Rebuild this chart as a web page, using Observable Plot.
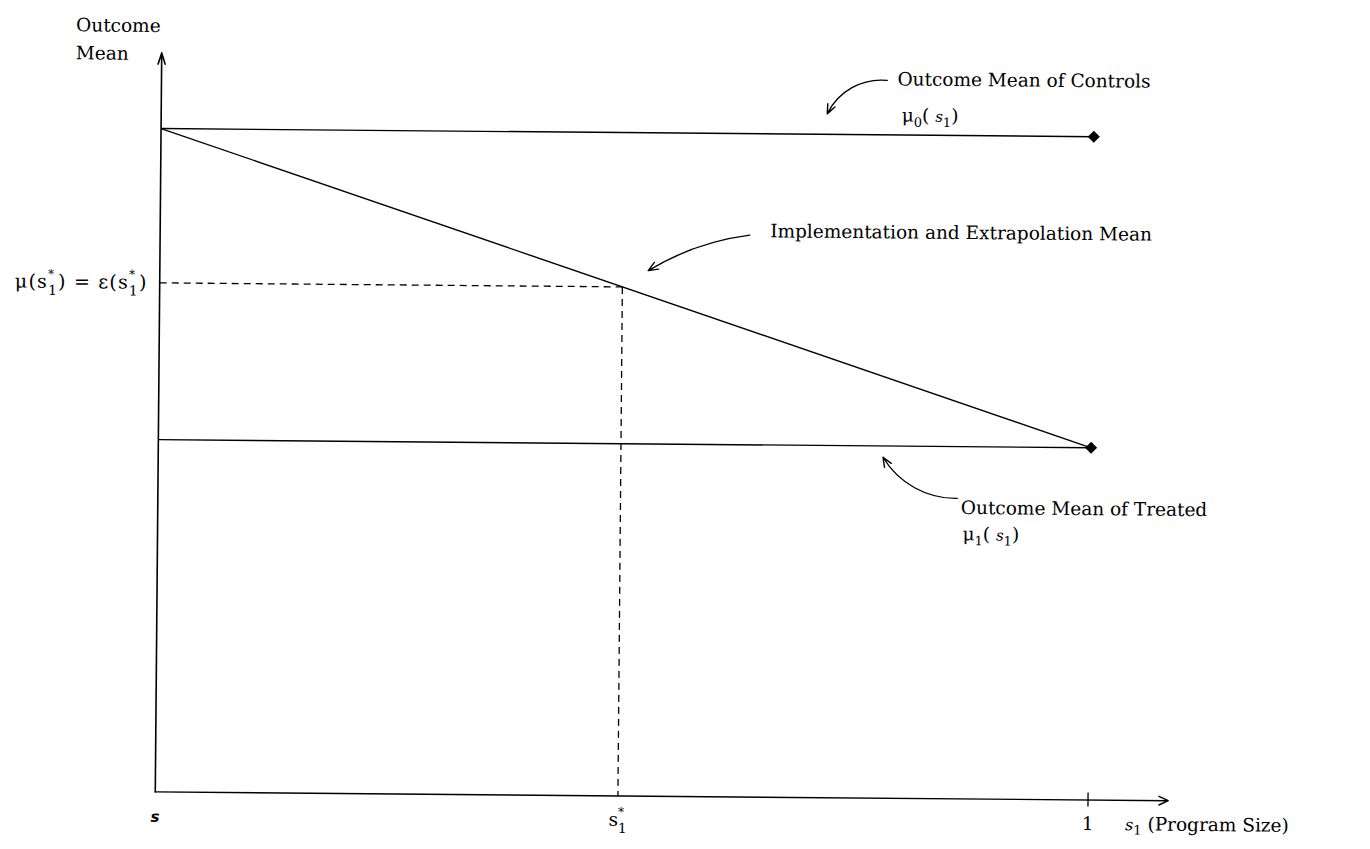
<!DOCTYPE html>
<html><head><meta charset="utf-8">
<script src="https://cdn.jsdelivr.net/npm/d3@7"></script>
<script src="https://cdn.jsdelivr.net/npm/@observablehq/plot@0.6"></script>
<style>
html,body{margin:0;padding:0;background:#fff;}
#chart{width:1370px;height:849px;overflow:hidden;background:#fff;}
#chart svg{display:block;transform:rotate(0.5deg);transform-origin:685px 424.5px;}
</style></head><body><div id="chart"></div>
<script>
// ---- data (program size s1 on x, outcome mean on y) ----
const programSize = [0, 1];                 // s ... 1
const controlsMean = [1.0, 1.0];            // μ0(s1)
const treatedMean = [0.531, 0.531];         // μ1(s1)
const implementationMean = [1.0, 0.531];    // ε(s1)
const sStar = 0.496;                        // s1*
const axisTopY = 1.114;
const axisRightX = 1.086;

// annotation labels
const annotText = ["Outcome Mean of Controls", "μ0( s1)", "Implementation and Extrapolation Mean", "Outcome Mean of Treated", "μ1( s1)"];
const annotX = [0.789, 0.794, 0.654, 0.861, 0.863];
const annotY = [1.0746, 1.0203, 0.844, 0.4295, 0.390];

// annotation arrows: from label to line
const arrowX1 = [0.778, 0.632, 0.857];
const arrowY1 = [1.0821, 0.847, 0.453];
const arrowX2 = [0.714, 0.5236, 0.777];
const arrowY2 = [1.0309, 0.7922, 0.514];
const arrowBend = [-35, -12, 30];

// axis labels
const yTitle = ["Outcome", "Mean"];
const yTitleX = [-0.092, -0.092];
const yTitleY = [1.1454, 1.1033];
const xTickLabels = ["s", "s1*", "1"];
const xTickPos = [0, sStar, 1];
const xTitle = "s1 (Program Size)";
const xTitleX = 1.040;
const yStarLabel = "μ(s1*) = ε(s1*)";

// ---- derived table ----
const yStar = implementationMean[0] + (implementationMean[1] - implementationMean[0]) * sStar;
const segs = [
  {x1: programSize[0], y1: controlsMean[0], x2: programSize[1], y2: controlsMean[1]},
  {x1: programSize[0], y1: implementationMean[0], x2: programSize[1], y2: implementationMean[1]},
  {x1: programSize[0], y1: treatedMean[0], x2: programSize[1], y2: treatedMean[1]}
];
const ends = [{x: programSize[1], y: controlsMean[1]}, {x: programSize[1], y: treatedMean[1]}];
const dashes = [
  {x1: 0, y1: yStar, x2: sStar, y2: yStar},
  {x1: sStar, y1: yStar, x2: sStar, y2: 0}
];
const annots = annotText.map((t, i) => ({t, x: annotX[i], y: annotY[i]}));
const arrows = arrowX1.map((d, i) => ({x1: arrowX1[i], y1: arrowY1[i], x2: arrowX2[i], y2: arrowY2[i], bend: arrowBend[i]}));

const FONT = "DejaVu Serif";
const FS = 18.5;

const plot = Plot.plot({
  width: 1370, height: 849,
  marginLeft: 158, marginRight: 199, marginTop: 57, marginBottom: 53,
  x: {domain: [0, axisRightX], axis: null},
  y: {domain: [0, axisTopY], axis: null},
  style: {fontFamily: FONT, background: "white", color: "black", overflow: "visible"},
  marks: [
    // axes
    Plot.arrow([{x1: 0, y1: 0, x2: 0, y2: axisTopY}], {x1: "x1", y1: "y1", x2: "x2", y2: "y2", stroke: "black", strokeWidth: 1.6, headLength: 11, headAngle: 35}),
    Plot.arrow([{x1: 0, y1: 0, x2: axisRightX, y2: 0}], {x1: "x1", y1: "y1", x2: "x2", y2: "y2", stroke: "black", strokeWidth: 1.4, headLength: 11, headAngle: 50}),
    Plot.ruleX([1], {y1: 0, y2: 0, insetTop: -7, insetBottom: -7, stroke: "black", strokeWidth: 1.3}),
    // lines
    Plot.link(segs, {x1: "x1", y1: "y1", x2: "x2", y2: "y2", stroke: "black", strokeWidth: 1.4}),
    Plot.dot(ends, {x: "x", y: "y", symbol: "diamond2", r: 4.5, fill: "black", stroke: "black"}),
    // dashed
    Plot.link(dashes, {x1: "x1", y1: "y1", x2: "x2", y2: "y2", stroke: "black", strokeWidth: 1.3, strokeDasharray: "7,5"}),
    // annotation arrows
    ...arrows.map(a => Plot.arrow([a], {x1: "x1", y1: "y1", x2: "x2", y2: "y2", bend: a.bend, stroke: "black", strokeWidth: 1.4, headLength: 11, headAngle: 45})),
    // annotation text
    Plot.text(annots, {x: "x", y: "y", text: "t", textAnchor: "start", lineAnchor: "bottom", fontSize: FS, fontFamily: FONT}),
    // y title
    Plot.text(yTitle, {x: (d, i) => yTitleX[i], y: (d, i) => yTitleY[i], text: d => d, textAnchor: "start", lineAnchor: "bottom", fontSize: FS, fontFamily: FONT}),
    // y star label
    Plot.text([yStarLabel], {x: 0, y: yStar, text: d => d, textAnchor: "end", lineAnchor: "bottom", dx: -12, dy: 6, fontSize: 19, fontFamily: FONT}),
    // x tick labels
    Plot.text(xTickLabels, {x: (d, i) => xTickPos[i], y: 0, text: d => d, textAnchor: "middle", lineAnchor: "bottom", dy: 30, fontSize: FS, fontFamily: FONT}),
    // x title
    Plot.text([xTitle], {x: xTitleX, y: 0, text: d => d, textAnchor: "start", lineAnchor: "bottom", dy: 30, fontSize: FS, fontFamily: FONT})
  ]
});
document.getElementById("chart").append(plot);

// ---- rich text (subscripts / superscripts) ----
// seg: [text, baselineOffsetPx, fontSizePx, style, backOverPrevious]
const richSpec = {
  "μ0( s1)": [["μ"], ["0", 5, 13], ["( "], ["s", 0, 15, "italic"], ["1", 5, 13], [")"]],
  "μ1( s1)": [["μ"], ["1", 5, 13], ["( "], ["s", 0, 15, "italic"], ["1", 5, 13], [")"]],
  "μ(s1*) = ε(s1*)": [["μ(s"], ["*", -10, 12], ["1", 7, 14, null, true], [") = ε(s"], ["*", -10, 12], ["1", 7, 14, null, true], [")"]],
  "s1*": [["s"], ["*", -10, 12], ["1", 7, 14, null, true]],
  "s": [["s", 0, 15, "bolditalic"]],
  "s1 (Program Size)": [["s", 0, 16, "italic"], ["1", 4, 13], [" (Program Size)"]]
};
d3.select(plot).selectAll("text").each(function () {
  const key = this.textContent;
  const spec = richSpec[key];
  if (!spec) return;
  const sel = d3.select(this);
  sel.text(null);
  if (key === yStarLabel) sel.attr("letter-spacing", 1.2);
  let cur = 0, prev = null;
  for (const [t, off = 0, size = null, style = null, back = false] of spec) {
    const ts = sel.append("tspan").text(t);
    if (off - cur) ts.attr("dy", off - cur);
    cur = off;
    if (size) ts.attr("font-size", size);
    if (style === "italic") ts.attr("font-style", "italic");
    if (style === "bolditalic") ts.attr("font-style", "italic").attr("font-weight", "bold").attr("font-family", "DejaVu Sans");
    if (back && prev) ts.attr("dx", -prev.getComputedTextLength());
    prev = ts.node();
  }
});
</script>
</body></html>
